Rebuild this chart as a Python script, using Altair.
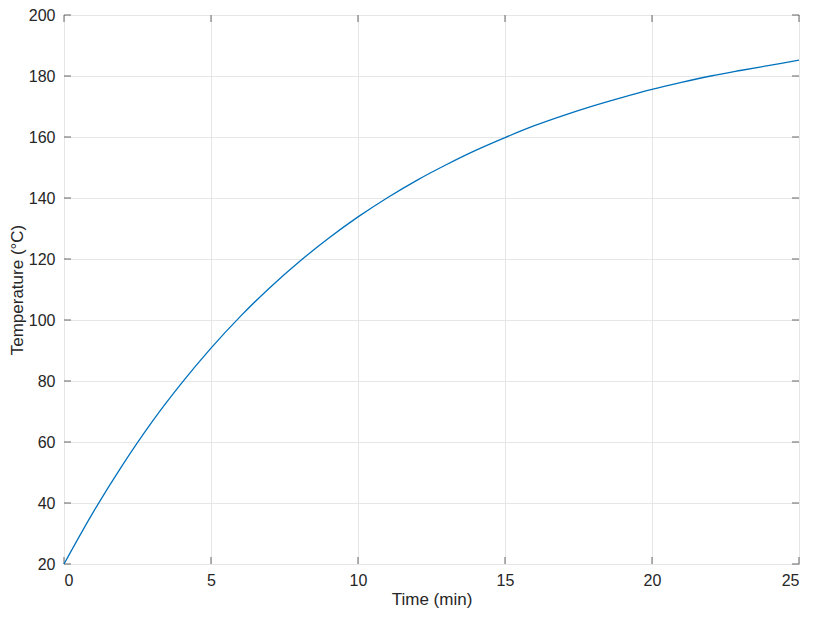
import altair as alt
import pandas as pd

time_min = list(range(0, 26))
temperature_c = [20.0, 37.1, 52.6, 66.7, 79.3, 90.8, 101.2, 110.6, 119.1, 126.8,
                 133.8, 140.1, 145.8, 150.9, 155.6, 159.8, 163.7, 167.1, 170.2, 173.0,
                 175.6, 177.9, 180.0, 181.8, 183.5, 185.2]
x_ticks = [0, 5, 10, 15, 20, 25]
y_ticks = [20, 40, 60, 80, 100, 120, 140, 160, 180, 200]

W, H = 735, 549
TICK = 7
AX = "#666666"
TXT = "#262626"
FONT = "Liberation Sans"

xs = alt.Scale(domain=[0, 25], nice=False, zero=False)
ys = alt.Scale(domain=[20, 200], nice=False, zero=False)
xaxis = alt.Axis(values=x_ticks, grid=True, gridColor="#E6E6E6", gridWidth=1,
                 ticks=False, domain=False, labelPadding=8, labelFontSize=16,
                 labelColor=TXT, titleColor=TXT, titleFontSize=17, titleFontWeight="normal",
                 titlePadding=3, labelFont=FONT, titleFont=FONT)
yaxis = alt.Axis(values=y_ticks, grid=True, gridColor="#E6E6E6", gridWidth=1,
                 ticks=False, domain=False, labelPadding=9, labelFontSize=16,
                 labelColor=TXT, titleColor=TXT, titleFontSize=17, titleFontWeight="normal",
                 titlePadding=2, labelFont=FONT, titleFont=FONT)

df = pd.DataFrame({"t": time_min, "T": temperature_c})
xt = pd.DataFrame({"t": x_ticks})
yt = pd.DataFrame({"T": y_ticks})

def X():
    return alt.X("t:Q", scale=xs, title="Time (min)", axis=xaxis)

def Y():
    return alt.Y("T:Q", scale=ys, title="Temperature (°C)", axis=yaxis)

line = alt.Chart(df).mark_line(color="#0072BD", strokeWidth=1.3, interpolate="monotone").encode(
    x=X(), y=Y())

xb = alt.Chart(xt).mark_rule(color=AX, strokeWidth=1).encode(
    x=X(), y=alt.value(H), y2=alt.value(H - TICK))
xtop = alt.Chart(xt).mark_rule(color=AX, strokeWidth=1).encode(
    x=X(), y=alt.value(0), y2=alt.value(TICK))
yl = alt.Chart(yt).mark_rule(color=AX, strokeWidth=1).encode(
    y=Y(), x=alt.value(0), x2=alt.value(TICK))
yr = alt.Chart(yt).mark_rule(color=AX, strokeWidth=1).encode(
    y=Y(), x=alt.value(W), x2=alt.value(W - TICK))

chart = alt.layer(xb, xtop, yl, yr, line).properties(
    width=W, height=H,
    autosize=alt.AutoSizeParams(type="none"),
    padding={"left": 56, "top": 7, "right": 9, "bottom": 47},
    background="white",
).configure_view(stroke=AX, strokeWidth=1)

chart.save("out.html", embed_options={"renderer": "svg", "actions": False})
